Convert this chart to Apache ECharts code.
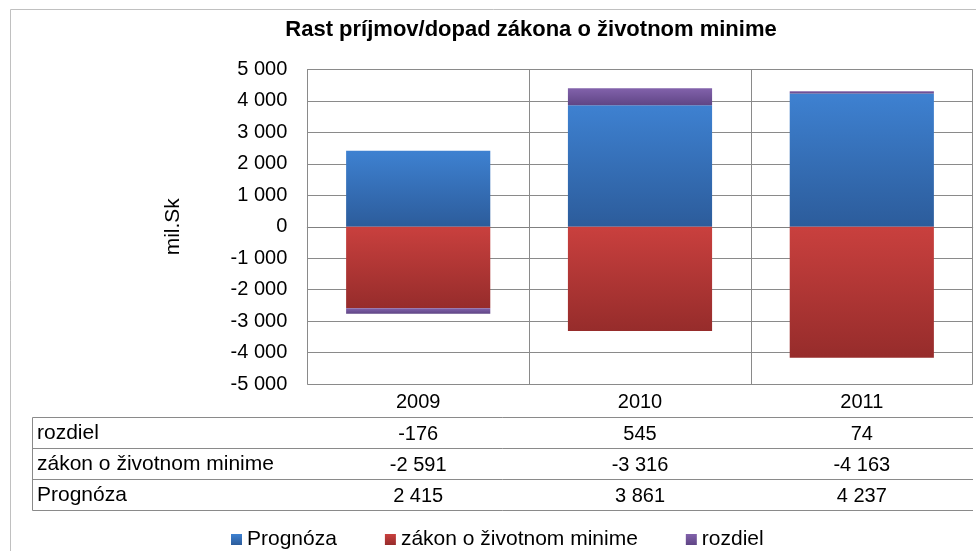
<!DOCTYPE html>
<html>
<head>
<meta charset="utf-8">
<script src="https://cdn.jsdelivr.net/npm/echarts@6/dist/echarts.min.js"></script>
<style>html,body{margin:0;padding:0;background:#fff;}#c{width:976px;height:551px;}</style>
</head>
<body>
<div id="c"></div>
<script>
const titleText = 'Rast príjmov/dopad zákona o životnom minime';
const yAxisName = 'mil.Sk';
const years = ['2009', '2010', '2011'];
const seriesNames = ['Prognóza', 'zákon o životnom minime', 'rozdiel'];
const prognoza = [2415, 3861, 4237];
const zakon = [-2591, -3316, -4163];
const rozdiel = [-176, 545, 74];
const yMin = -5000, yMax = 5000, yStep = 1000;

function fmt(v) {
  const s = Math.abs(v).toString().replace(/\B(?=(\d{3})+(?!\d))/g, ' ');
  return (v < 0 ? '-' : '') + s;
}
function grad(top, bottom) {
  return { type: 'linear', x: 0, y: 0, x2: 0, y2: 1,
    colorStops: [{ offset: 0, color: top }, { offset: 1, color: bottom }] };
}

const FONT = 'Liberation Sans, Arial, sans-serif';
const lineCol = '#8a8a8a';
const seriesValues = [prognoza, zakon, rozdiel];
const colors = [grad('#3e81d1', '#2c5c9b'), grad('#c9403e', '#962c2b'), grad('#8262ab', '#5f4585')];

// table rows, top to bottom
const tableRows = [
  { name: seriesNames[2], values: rozdiel },
  { name: seriesNames[1], values: zakon },
  { name: seriesNames[0], values: prognoza }
];
const rowOffsets = [32, 63, 94];
const rowCenters = [433.5, 464.5, 495];

const chart = echarts.init(document.getElementById('c'), null, { renderer: 'canvas' });

const xAxes = [{
  type: 'category', data: years, gridIndex: 0, position: 'bottom',
  axisLine: { show: true, lineStyle: { color: '#808080', width: 1 } },
  axisTick: { show: true, length: 127, interval: 0, lineStyle: { color: lineCol } },
  splitLine: { show: true, interval: 0, lineStyle: { color: lineCol, width: 1 } },
  axisLabel: { interval: 0, margin: 8, fontFamily: FONT, fontSize: 20, color: '#000' }
}];
tableRows.forEach((r, i) => {
  xAxes.push({
    type: 'category', data: years, gridIndex: 0, position: 'bottom', offset: rowOffsets[i],
    axisLine: { show: false }, axisTick: { show: false }, splitLine: { show: false },
    axisLabel: { interval: 0, margin: 8, fontFamily: FONT, fontSize: 20, color: '#000',
      formatter: (val, idx) => fmt(r.values[idx]) }
  });
});

const graphics = [
  { type: 'rect', shape: { x: 10.5, y: 9.5, width: 1000, height: 600 },
    style: { fill: 'none', stroke: '#c0c0c0', lineWidth: 1 }, silent: true },
  { type: 'line', shape: { x1: 32.5, y1: 417.5, x2: 32.5, y2: 510.5 }, style: { stroke: lineCol, lineWidth: 1 } }
];
[417.5, 448.5, 479.5, 510.5].forEach(y => {
  graphics.push({ type: 'line', shape: { x1: 32.5, y1: y, x2: 973, y2: y }, style: { stroke: lineCol, lineWidth: 1 } });
});
tableRows.forEach((r, i) => {
  graphics.push({ type: 'text', x: 37, y: rowCenters[i],
    style: { text: r.name, fontFamily: FONT, fontSize: 21, fill: '#000', verticalAlign: 'middle', align: 'left' } });
});

chart.setOption({
  animation: false,
  backgroundColor: '#fff',
  title: {
    text: titleText, left: 526, top: 14, textAlign: 'center',
    textStyle: { fontFamily: FONT, fontSize: 22, fontWeight: 'bold', color: '#000' }
  },
  legend: {
    data: seriesNames, left: 226, top: 524, icon: 'rect', itemWidth: 11, itemHeight: 11, itemGap: 48,
    textStyle: { fontFamily: FONT, fontSize: 21, color: '#000' }
  },
  grid: { left: 307.3, right: 3.3, top: 69.5, bottom: 167, containLabel: false },
  xAxis: xAxes,
  yAxis: {
    type: 'value', min: yMin, max: yMax, interval: yStep,
    name: yAxisName, nameLocation: 'middle', nameRotate: 90, nameGap: 124,
    nameTextStyle: { fontFamily: FONT, fontSize: 21, color: '#000' },
    axisLine: { show: true, lineStyle: { color: lineCol } },
    axisTick: { show: false },
    splitLine: { show: true, lineStyle: { color: lineCol, width: 1 } },
    axisLabel: { margin: 20, fontFamily: FONT, fontSize: 20, color: '#000', formatter: v => fmt(v) }
  },
  series: seriesNames.map((n, i) => ({
    name: n, type: 'bar', stack: 'total', xAxisIndex: 0, barWidth: '65%',
    data: seriesValues[i], itemStyle: { color: colors[i] }
  })),
  graphic: graphics
});
</script>
</body>
</html>
